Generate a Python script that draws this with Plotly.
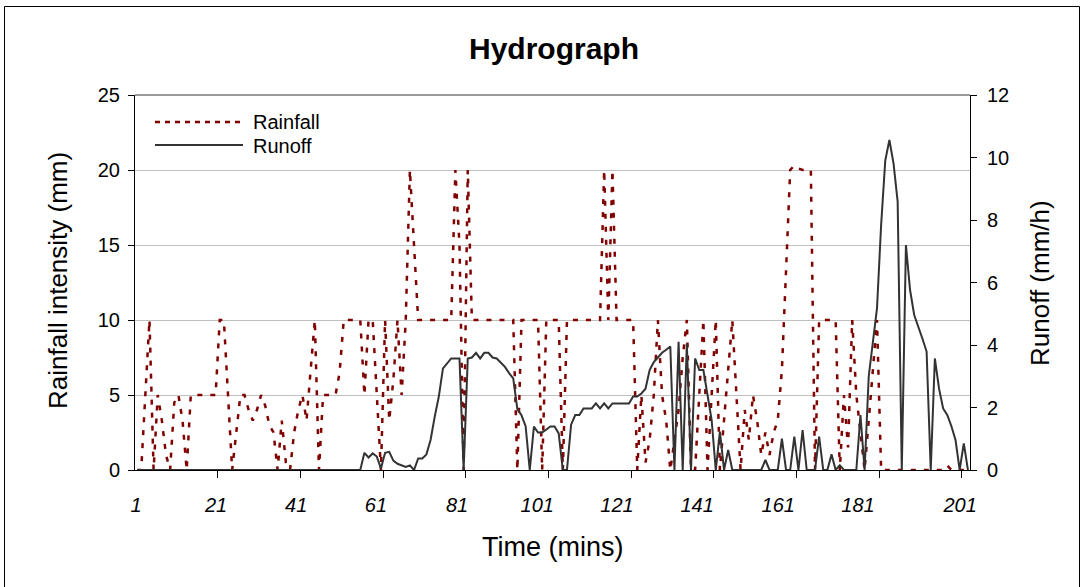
import plotly.graph_objects as go

# Time step index (minutes) and the two measured series
minutes = list(range(1, 203))

rainfall = [
    0, 0, 5, 10, 0, 5, 3.3, 1, 0, 4.5,
    5, 3.3, 0, 5, 5, 5, 5, 5, 5, 5,
    10, 10, 5, 0, 2.5, 5, 5, 4, 3.3, 4,
    5, 4.3, 3, 2.5, 0, 3.3, 0.5, 0, 2.5, 4,
    5, 3.3, 6.7, 10, 0, 5, 5, 5, 5, 6.5,
    10, 10, 10, 10, 10, 5, 10, 10, 5, 0,
    10, 3.3, 6, 10, 5, 10, 20, 15, 10, 10,
    10, 10, 10, 10, 10, 10, 10, 20, 15, 0,
    20, 10, 10, 10, 10, 10, 10, 10, 10, 10,
    10, 10, 0, 10, 10, 10, 10, 10, 0, 10,
    10, 10, 10, 0, 10, 10, 10, 10, 10, 10,
    10, 10, 10, 20, 10, 20, 10, 10, 10, 10,
    10, 0, 5, 0.5, 2, 5, 10, 5, 3.3, 0,
    2, 4, 7.5, 10, 0, 0, 5, 10, 0, 5,
    10, 0, 3.3, 7, 10, 5, 0, 4, 2, 5,
    3.3, 1, 2.5, 1, 2.5, 3.3, 6.7, 13.3, 20, 20.3,
    20.1, 20, 20, 20, 0, 10, 10, 10, 10, 10,
    0, 5, 1.5, 10, 5, 2.5, 0, 3.3, 6.7, 10,
    0, 0, 0, 0, 0, 0, 0, 0, 0, 0,
    0, 0, 0, 0, 0, 0, 0.3, 0, 0, 0,
    0, 0,
]

runoff = [0] * 55 + [
    0.55, 0.4, 0.53, 0.43, 0.05,
    0.55, 0.58, 0.3, 0.2, 0.15, 0.1, 0.15, 0, 0.37, 0.37,
    0.5, 0.96, 1.7, 2.35, 3.25, 3.41, 3.57, 3.57, 3.57, 0,
    3.57, 3.6, 3.75, 3.57, 3.75, 3.75, 3.6, 3.57, 3.45, 3.3,
    3.1, 2.93, 1.95, 1.75, 1.4, 0, 1.39, 1.2, 1.2, 1.3,
    1.39, 1.39, 1.17, 0, 0, 1.45, 1.76, 1.76, 1.97, 1.97,
    1.97, 2.13, 1.97, 2.13, 1.97, 2.13, 2.13, 2.13, 2.13, 2.13,
    2.35, 2.35, 2.45, 2.6, 3.2, 3.45, 3.6, 3.75, 3.85, 3.95,
    0, 4.1, 0, 4.05, 0, 3.57, 3.2, 3.2, 2.4, 1.6,
    0, 1.23, 0, 0.64, 0, 0, 0, 0, 0, 0,
    0, 0, 0.32, 0, 0, 0, 1.0, 0, 0, 1.07,
    0, 1.28, 0, 0, 0, 1.07, 0, 0, 0.5, 0,
    0.15, 0, 0, 0, 0, 1.76, 0, 3.0, 4.1, 5.17,
    7.84, 9.9, 10.56, 9.81, 8.59, 0, 7.2, 5.76, 4.96, 4.6,
    4.2, 3.79, 0, 3.57, 2.61, 1.97, 1.76, 1.4, 0.96, 0,
    0.85, 0,
]

# Category axis labels (every 20th minute) and the tick marks on the category boundaries
x_tick_text = [str(1 + 20 * k) for k in range(11)]
x_label_pos = [0.75, 20.1, 39.5, 58.8, 78.4, 97.8, 117.1, 136.5, 156.1, 175.4, 200.1]
x_mark_pos = [20.5 + 20 * k for k in range(10)]

FONT = "Arial, 'Liberation Sans', sans-serif"
RAIN_COLOR = "#800000"
RUNOFF_COLOR = "#333333"

# Plot-area geometry in pixels
W, H = 1083, 587
L, R, T, B = 135, 970, 95, 470


def px_x(p):
    return (p - L) / (R - L)


def px_y(p):
    return (B - p) / (B - T)


fig = go.Figure()
fig.add_trace(go.Scatter(
    x=minutes, y=rainfall, name="Rainfall", mode="lines",
    line=dict(color=RAIN_COLOR, width=2.5, dash="5px,8px"),
    yaxis="y", showlegend=False,
))
fig.add_trace(go.Scatter(
    x=minutes, y=runoff, name="Runoff", mode="lines",
    line=dict(color=RUNOFF_COLOR, width=2),
    yaxis="y2", showlegend=False,
))

fig.update_layout(
    width=W, height=H,
    margin=dict(l=L, r=W - R, t=T, b=H - B, autoexpand=False),
    paper_bgcolor="white", plot_bgcolor="white",
    font=dict(family=FONT, color="black"),
    title=dict(
        text="<b>Hydrograph</b>", x=554 / W, xanchor="center",
        y=1 - 48 / H, yanchor="middle", font=dict(size=30, family=FONT),
    ),
    xaxis=dict(
        range=[0.5, 202.5], tickmode="array", tickvals=x_label_pos, ticktext=x_tick_text,
        ticks="", ticklabelstandoff=17,
        tickfont=dict(size=20, style="italic"),
        minor=dict(tickmode="array", tickvals=x_mark_pos, ticks="outside",
                   ticklen=7, tickcolor="black", showgrid=False),
        showline=True, linecolor="black", linewidth=1,
        showgrid=False, zeroline=False,
    ),
    # inside half of the crossing tick marks on the time axis
    xaxis2=dict(
        range=[0.5, 202.5], overlaying="x", anchor="y", side="bottom",
        tickmode="array", tickvals=x_mark_pos, ticks="inside", ticklen=6,
        tickcolor="black", showticklabels=False, showgrid=False, zeroline=False,
        showline=False,
    ),
    yaxis=dict(
        range=[0, 25], tickmode="linear", tick0=0, dtick=5,
        ticks="outside", ticklen=6, tickcolor="black", ticklabelstandoff=4,
        tickfont=dict(size=20),
        showline=True, linecolor="black", linewidth=1,
        showgrid=True, gridcolor="#c0c0c0", gridwidth=1, zeroline=False,
    ),
    yaxis2=dict(
        range=[0, 12], tickmode="linear", tick0=0, dtick=2,
        overlaying="y", side="right",
        ticks="outside", ticklen=6, tickcolor="black", ticklabelstandoff=6,
        tickfont=dict(size=20),
        showline=True, linecolor="black", linewidth=1,
        showgrid=False, zeroline=False,
    ),
    # inside half of the crossing tick marks on both value axes
    yaxis3=dict(
        range=[0, 25], tickmode="linear", tick0=0, dtick=5, overlaying="y", side="left",
        ticks="inside", ticklen=5, tickcolor="black", showticklabels=False,
        showgrid=False, zeroline=False, showline=False,
    ),
    yaxis4=dict(
        range=[0, 12], tickmode="linear", tick0=0, dtick=2, overlaying="y", side="right",
        ticks="inside", ticklen=6, tickcolor="black", showticklabels=False,
        showgrid=False, zeroline=False, showline=False,
    ),
    shapes=[
        # top edge of the plot area
        dict(type="line", xref="paper", yref="paper", x0=0, x1=1, y0=1, y1=1,
             line=dict(color="#9a9a9a", width=2)),
        # chart frame
        dict(type="rect", xref="paper", yref="paper",
             x0=px_x(4.5), x1=px_x(1079.5), y0=px_y(592), y1=px_y(6.5),
             line=dict(color="black", width=1)),
        # legend keys
        dict(type="line", xref="paper", yref="paper",
             x0=px_x(155), x1=px_x(243), y0=px_y(122), y1=px_y(122),
             line=dict(color=RAIN_COLOR, width=2.5, dash="5px,5px")),
        dict(type="line", xref="paper", yref="paper",
             x0=px_x(155), x1=px_x(243), y0=px_y(145), y1=px_y(145),
             line=dict(color=RUNOFF_COLOR, width=2)),
    ],
    annotations=[
        dict(text="Rainfall", xref="paper", yref="paper", x=px_x(251), y=px_y(122),
             xanchor="left", yanchor="middle", showarrow=False, font=dict(size=20)),
        dict(text="Runoff", xref="paper", yref="paper", x=px_x(251), y=px_y(146),
             xanchor="left", yanchor="middle", showarrow=False, font=dict(size=20)),
        dict(text="Rainfall intensity (mm)", xref="paper", yref="paper",
             x=px_x(58), y=px_y(281), textangle=-90, xanchor="center", yanchor="middle",
             showarrow=False, font=dict(size=26)),
        dict(text="Runoff (mm/h)", xref="paper", yref="paper",
             x=px_x(1040), y=px_y(283), textangle=-90, xanchor="center", yanchor="middle",
             showarrow=False, font=dict(size=26)),
        dict(text="Time (mins)", xref="paper", yref="paper",
             x=px_x(553), y=px_y(547), xanchor="center", yanchor="middle",
             showarrow=False, font=dict(size=27)),
    ],
)

fig.write_html("out.html")
